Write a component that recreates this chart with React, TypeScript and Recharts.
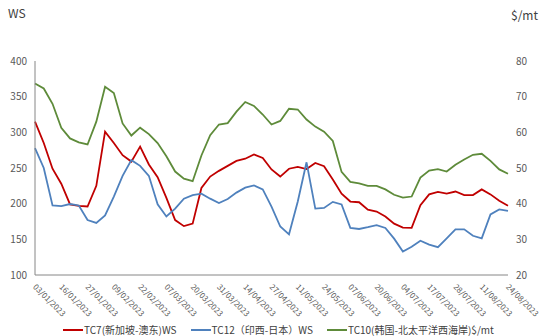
import { LineChart, Line, XAxis, YAxis, Legend } from 'recharts';

// every third trading day, labels on every third point
const dates = [
  '03/01/2023', '06/01/2023', '11/01/2023', '16/01/2023', '19/01/2023', '24/01/2023',
  '27/01/2023', '01/02/2023', '06/02/2023', '09/02/2023', '14/02/2023', '17/02/2023',
  '22/02/2023', '27/02/2023', '02/03/2023', '07/03/2023', '10/03/2023', '15/03/2023',
  '20/03/2023', '23/03/2023', '28/03/2023', '31/03/2023', '05/04/2023', '11/04/2023',
  '14/04/2023', '19/04/2023', '24/04/2023', '27/04/2023', '02/05/2023', '05/05/2023',
  '11/05/2023', '16/05/2023', '19/05/2023', '24/05/2023', '30/05/2023', '02/06/2023',
  '07/06/2023', '12/06/2023', '15/06/2023', '20/06/2023', '23/06/2023', '28/06/2023',
  '04/07/2023', '07/07/2023', '12/07/2023', '17/07/2023', '20/07/2023', '25/07/2023',
  '28/07/2023', '02/08/2023', '07/08/2023', '11/08/2023', '16/08/2023', '21/08/2023',
  '24/08/2023',
];

// TC7 Singapore - East Australia (WS)
const tc7 = [
  315, 285, 249, 228, 199, 197, 196, 225, 301, 285, 268, 259, 280, 255, 237, 208, 177, 168.5,
  172, 222, 238, 246, 253, 260, 263, 269, 264, 248, 238, 249, 251.5, 248.5, 257, 252.5, 234, 214,
  203, 202, 191.5, 189, 182, 172, 166.5, 166, 198, 213, 216.5, 214, 217, 212, 212, 220, 213, 204,
  197,
];

// TC12 West India - Japan (WS)
const tc12 = [
  278, 250, 197.5, 196.5, 199.5, 197.5, 177, 173, 183.5, 210, 239, 261, 253, 239, 199, 182, 193,
  207, 212, 214, 207, 201, 206.5, 215.5, 222.5, 225.5, 220, 196, 168, 157, 203, 258, 193, 194,
  202.5, 199, 166, 164.5, 167, 170, 166, 151, 133, 139.5, 148, 142.5, 139, 151.4, 164, 164, 155,
  151.4, 185, 192, 190,
];

// TC10 Korea - North Pacific West Coast ($/mt)
const tc10 = [
  73.7, 72.3, 68, 61.3, 58.3, 57.2, 56.6, 63, 72.8, 71, 62.5, 59.1, 61.3, 59.5, 57, 53.3, 49, 47,
  46.3, 53.5, 59.2, 62.2, 62.6, 65.8, 68.5, 67.4, 65, 62.2, 63.2, 66.6, 66.4, 63.6, 61.6, 60.2,
  57.6, 48.9, 46.1, 45.7, 45, 45, 44, 42.5, 41.7, 42, 47.3, 49.3, 49.7, 49, 50.9, 52.4, 53.7, 54,
  52, 49.6, 48.4,
];

const wsTicks = [100, 150, 200, 250, 300, 350, 400];
const usdTicks = [20, 30, 40, 50, 60, 70, 80];

const series = [
  { key: 'tc7', name: 'TC7(新加坡-澳东)WS', color: '#C00000', axis: 'ws' },
  { key: 'tc12', name: 'TC12（印西-日本）WS', color: '#4F81BD', axis: 'ws' },
  { key: 'tc10', name: 'TC10(韩国-北太平洋西海岸)$/mt', color: '#5E8B3A', axis: 'usd' },
];

const data = dates.map((date, i) => ({
  date,
  tc7: tc7[i],
  tc12: tc12[i],
  tc10: tc10[i],
}));

const FONT = '"Noto Sans CJK SC", "Noto Sans", sans-serif';
const AXIS_TEXT = '#595959';

function DateTick({ x, y, payload }: any) {
  return (
    <text
      x={x}
      y={y}
      transform={`rotate(45, ${x}, ${y})`}
      textAnchor="start"
      dominantBaseline="central"
      fontSize={8}
      fill={AXIS_TEXT}
      fontFamily={FONT}
    >
      {payload.value}
    </text>
  );
}

// fixed order, same as the reference legend
function LegendContent() {
  return (
    <div
      style={{
        display: 'flex',
        paddingLeft: 63,
        fontFamily: FONT,
        fontSize: 10,
        color: '#404040',
        whiteSpace: 'nowrap',
        lineHeight: '11px',
      }}
    >
      {series.map((s) => (
        <div key={s.key} style={{ display: 'flex', alignItems: 'center', marginRight: 14 }}>
          <span style={{ display: 'inline-block', width: 20, height: 2, background: s.color, marginRight: 1 }} />
          <span>{s.name}</span>
        </div>
      ))}
    </div>
  );
}

export default function App() {
  return (
    <div style={{ position: 'absolute', left: 0, top: 0, width: 540, height: 336, background: '#fff', overflow: 'hidden' }}>
      <div style={{ position: 'absolute', left: 8, top: 4, fontFamily: FONT, fontSize: 12, color: '#404040' }}>WS</div>
      <div style={{ position: 'absolute', right: 2, top: 6, fontFamily: FONT, fontSize: 12, color: '#404040' }}>$/mt</div>
      <LineChart width={540} height={336} data={data} margin={{ top: 61, right: 6, left: 5, bottom: 11 }}>
        <XAxis
          dataKey="date"
          interval={2}
          tick={<DateTick />}
          tickLine={false}
          axisLine={{ stroke: '#868686' }}
          height={50}
          tickMargin={4}
        />
        <YAxis
          yAxisId="ws"
          domain={[100, 400]}
          ticks={wsTicks}
          width={30}
          tickLine={false}
          axisLine={{ stroke: '#868686' }}
          tick={{ fontSize: 10, fill: AXIS_TEXT, fontFamily: FONT }}
        />
        <YAxis
          yAxisId="usd"
          orientation="right"
          domain={[20, 80]}
          ticks={usdTicks}
          width={26}
          tickLine={false}
          axisLine={false}
          tick={{ fontSize: 10, fill: AXIS_TEXT, fontFamily: FONT }}
        />
        <Legend
          verticalAlign="middle"
          align="center"
          content={<LegendContent />}
          wrapperStyle={{ top: 324, left: 0, width: 540 }}
        />
        {series.map((s) => (
          <Line
            key={s.key}
            yAxisId={s.axis}
            dataKey={s.key}
            name={s.name}
            stroke={s.color}
            strokeWidth={1.8}
            dot={false}
            isAnimationActive={false}
          />
        ))}
      </LineChart>
    </div>
  );
}
